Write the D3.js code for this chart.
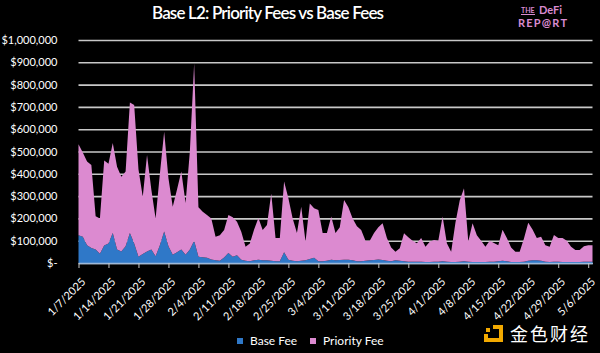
<!DOCTYPE html>
<html>
<head>
<meta charset="utf-8">
<script src="https://cdn.jsdelivr.net/npm/d3@7"></script>
<style>
  body { margin: 0; background: #000; }
  svg { display: block; }
</style>
</head>
<body>
<div id="chart"></div>
<script>
// daily values, thousands of USD, 1/7/2025 .. 5/7/2025
var startDate = "2025-01-07";
var baseFee = [125,118,80,67,60,42,78,87,134,60,52,75,134,87,28,40,52,60,30,80,
  141,75,37,48,60,37,60,100,28,26,24,16,12,10,25,45,28,35,15,10,
  8,12,15,12,12,10,8,8,48,15,10,8,10,12,18,24,8,8,10,15,
  12,14,15,15,12,8,8,10,12,14,16,14,10,8,12,10,8,6,6,6,
  6,5,5,6,6,8,6,5,5,6,8,6,5,5,5,5,6,6,8,10,
  8,5,5,5,6,10,12,12,10,6,5,6,6,5,5,5,5,5,6,6,6];
var priorityFee = [408,377,375,373,150,158,382,358,404,372,335,335,586,621,392,257,432,270,170,320,
  448,305,215,282,350,232,440,795,222,204,191,184,106,115,123,170,177,150,125,63,
  80,138,187,136,158,302,104,104,317,275,190,126,242,84,249,221,230,126,124,193,
  122,146,267,235,188,157,140,90,88,120,144,164,102,62,39,56,125,109,94,83,
  106,68,90,97,94,200,83,45,175,274,327,90,173,120,95,68,94,84,72,139,
  104,65,46,46,104,170,138,100,108,74,68,120,106,107,95,68,53,53,69,74,74];
var seriesNames = ["Base Fee", "Priority Fee"];
var seriesColors = ["#2f78c8", "#dc8ad0"];
var yTicks = [0, 100, 200, 300, 400, 500, 600, 700, 800, 900, 1000];
var xTickLabels = ["1/7/2025","1/14/2025","1/21/2025","1/28/2025","2/4/2025","2/11/2025",
  "2/18/2025","2/25/2025","3/4/2025","3/11/2025","3/18/2025","3/25/2025","4/1/2025",
  "4/8/2025","4/15/2025","4/22/2025","4/29/2025","5/6/2025"];

var W = 600, H = 353;
var margin = {top: 40, right: 8, bottom: 90, left: 78.5};

var parse = d3.timeParse("%Y-%m-%d");
var t0 = parse(startDate);
var rows = baseFee.map(function(b, i) {
  return {date: d3.timeDay.offset(t0, i), "Base Fee": b, "Priority Fee": priorityFee[i]};
});

var x = d3.scaleTime()
    .domain([t0, rows[rows.length - 1].date])
    .range([margin.left, margin.left + 514]);
var y = d3.scaleLinear()
    .domain([0, 1000])
    .range([H - margin.bottom, margin.top]);

var stack = d3.stack().keys(seriesNames);
var layers = stack(rows);

var area = d3.area()
    .x(function(d) { return x(d.data.date); })
    .y0(function(d) { return y(d[0]); })
    .y1(function(d) { return y(d[1]); });

var svg = d3.select("#chart").append("svg")
    .attr("width", W)
    .attr("height", H)
    .style("background", "#000");

var font = "Lato, 'Open Sans', sans-serif";

// title
svg.append("text")
    .attr("x", 268).attr("y", 19)
    .attr("text-anchor", "middle")
    .attr("fill", "#fff")
    .style("font-family", font)
    .style("font-size", "17px")
    .style("font-weight", 600)
    .attr("textLength", 232)
    .text("Base L2: Priority Fees vs Base Fees");

// logo
var logo = svg.append("g").attr("fill", "#d98bcf").style("font-family", font).style("font-weight", 700);
logo.append("text").attr("x", 521).attr("y", 13).style("font-size", "7px").text("THE");
logo.append("rect").attr("x", 521).attr("y", 14).attr("width", 14).attr("height", 1);
logo.append("text").attr("x", 539).attr("y", 14).style("font-size", "11px").text("DeFi");
logo.append("text").attr("x", 518).attr("y", 27).style("font-size", "11px").attr("textLength", 49).text("REP@RT");

// gridlines + y labels
var yAxis = svg.append("g")
    .attr("transform", "translate(" + margin.left + ",0)")
    .call(d3.axisLeft(y).tickValues(yTicks).tickSize(-(514)).tickPadding(21)
      .tickFormat(function(d) { return d === 0 ? "$-" : d3.format("$,")(d * 1000); }));
yAxis.select(".domain").remove();
yAxis.selectAll(".tick line").attr("stroke", "#c8c8c8").attr("stroke-width", 1.6);
yAxis.selectAll(".tick text")
    .attr("fill", "#fff")
    .style("font-family", font)
    .style("font-size", "11px");

// areas
svg.selectAll(".layer").data(layers)
  .enter().append("path")
    .attr("class", "layer")
    .attr("fill", function(d, i) { return seriesColors[i]; })
    .attr("d", area);

// x axis
var tickDates = xTickLabels.map(function(s) { return d3.timeParse("%m/%d/%Y")(s); });
var xAxis = svg.append("g")
    .attr("transform", "translate(0," + (H - margin.bottom) + ")")
    .call(d3.axisBottom(x).tickValues(tickDates).tickSize(5).tickSizeOuter(0)
      .tickFormat(function(d, i) { return xTickLabels[i]; }));
xAxis.select(".domain").attr("stroke", "#9db8d8").attr("stroke-width", 1.5);
xAxis.selectAll(".tick line").attr("stroke", "#c8c8c8");
xAxis.selectAll(".tick text")
    .attr("fill", "#fff")
    .style("font-family", font)
    .style("font-size", "11px")
    .attr("text-anchor", "end")
    .attr("dx", "0")
    .attr("dy", "0.35em")
    .attr("transform", "translate(-1,11) rotate(-45)");

// legend
var legendX = [237, 310];
var legend = svg.append("g").selectAll("g").data(seriesNames)
  .enter().append("g")
    .attr("transform", function(d, i) { return "translate(" + legendX[i] + ",338)"; });
legend.append("rect").attr("width", 6).attr("height", 6).attr("y", 0)
    .attr("fill", function(d, i) { return seriesColors[i]; });
legend.append("text").attr("x", 13).attr("y", 7)
    .attr("fill", "#fff")
    .style("font-family", font)
    .style("font-size", "12px")
    .text(function(d) { return d; });

// watermark
var wm = svg.append("g").attr("transform", "translate(484,325)");
wm.append("path")
    .attr("d", "M9,0 H19 V17 H0 V9 H4 V13 H15 V4 H9 Z")
    .attr("fill", "#f2a900");
wm.append("rect").attr("x", 2).attr("y", 3).attr("width", 4).attr("height", 4).attr("fill", "#f2a900");
wm.append("text").attr("x", 26).attr("y", 15.5)
    .attr("fill", "#fff")
    .style("font-family", "'Noto Sans CJK SC', sans-serif")
    .style("font-size", "18px")
    .attr("textLength", 78)
    .text("金色财经");
</script>
</body>
</html>
